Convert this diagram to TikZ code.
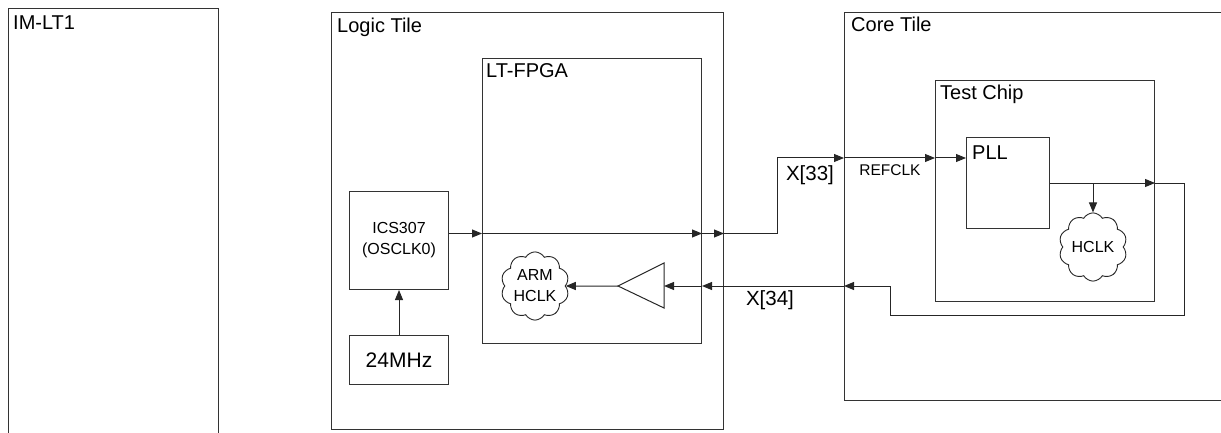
\documentclass[tikz,border=0pt]{standalone}
\usepackage{fontspec}
\setmainfont{Liberation Sans}
\usetikzlibrary{shapes.symbols,arrows.meta,calc}
\tikzset{
  box/.style={draw=black!80, line width=1pt, rectangle, inner sep=0pt, anchor=north west},
  ttl/.style={inner sep=0pt, anchor=base west, font=\fontsize{20}{22}\selectfont},
  conn/.style={draw=black!85, line width=1pt},
  arr/.style={conn, -{Triangle[length=10pt,width=8pt]}},
  cloudnode/.style={cloud, cloud puffs=10, cloud puff arc=120, aspect=1, draw=black!85,
    line width=0.9pt, inner sep=0pt, minimum width=58pt, minimum height=56pt,
    align=center, font=\fontsize{16}{21}\selectfont},
  lbl/.style={inner sep=0pt, font=\fontsize{20.5}{22}\selectfont}
}
\begin{document}
\begin{tikzpicture}[x=1pt,y=-1pt]
\useasboundingbox (0,0) rectangle (1221,433);
\clip (0,0) rectangle (1221,433);
% boxes
\node[box, minimum width=210pt, minimum height=450pt] (imlt) at (8,8) {};
\node[box, minimum width=392pt, minimum height=417pt] (logic) at (331,12) {};
\node[box, minimum width=219pt, minimum height=285pt] (fpga) at (482,58) {};
\node[box, minimum width=420pt, minimum height=388pt] (core) at (844,12) {};
\node[box, minimum width=219pt, minimum height=221pt] (tc) at (935,80) {};
\node[box, minimum width=83pt, minimum height=91pt] (pll) at (966,137) {};
\node[box, minimum width=99pt, minimum height=98pt, align=center,
      font=\fontsize{16}{21}\selectfont] (ics) at (349,191) {ICS307\\(OSCLK0)};
\node[box, minimum width=99pt, minimum height=49pt,
      font=\fontsize{21}{24}\selectfont] (mhz) at (349,335) {24MHz};
% titles
\node[ttl] (timlt) at (13,30) {IM-LT1};
\node[ttl] (tlogic) at (337,33) {Logic Tile};
\node[ttl] (tfpga) at (486,78) {LT-FPGA};
\node[ttl] (tcore) at (851,32) {Core Tile};
\node[ttl] (ttc) at (940,100) {Test Chip};
\node[ttl] (tpll) at (972,160) {PLL};
% clouds
\node[cloudnode] (hclk) at (1093,247) {HCLK};
\node[cloudnode, minimum width=58pt, minimum height=54pt] (arm) at (535,286) {ARM\\HCLK};
% buffer
\coordinate (bufin) at (664,286);
\coordinate (bufout) at (618,286);
\draw[conn] (664,263) -- (664,308) -- (bufout) -- cycle;
% helper coordinates
\coordinate (o1) at ($(ics.east)+(0,-7)$);
\coordinate (pin) at ($(pll.west)+(0,-25)$);
\coordinate (xj) at (777,0);
\coordinate (rx) at (1184,315);
\coordinate (ry) at (890,286);
% upper path
\draw[arr] (mhz.north) -- (ics.south);
\draw[arr] (o1) -- (o1 -| fpga.west);
\draw[arr] (o1 -| fpga.west) -- (o1 -| fpga.east);
\draw[arr] (o1 -| fpga.east) -- (o1 -| logic.east);
\draw[arr] (o1 -| logic.east) -- (o1 -| xj) |- (pin -| core.west);
\draw[arr] (pin -| core.west) -- (pin -| tc.west);
\draw[arr] (pin -| tc.west) -- (pin);
% pll output
\draw[arr] (pll.east) -- (pll.east -| tc.east);
\draw[arr] (pll.east -| hclk) -- (hclk.north);
\draw[arr] (pll.east -| tc.east) -- (pll.east -| rx) -- (rx) -| (ry) -- (ry -| core.west);
% lower path
\draw[arr] (ry -| core.west) -- (ry -| fpga.east);
\draw[arr] (ry -| fpga.east) -- (bufin);
\draw[arr] (bufout) -- (arm.east);
% labels
\node[lbl] (l33) at (810,175) {X[33]};
\node[lbl, font=\fontsize{15.5}{18}\selectfont] (lref) at (890,170) {REFCLK};
\node[lbl] (l34) at (770,300) {X[34]};
\end{tikzpicture}
\end{document}
